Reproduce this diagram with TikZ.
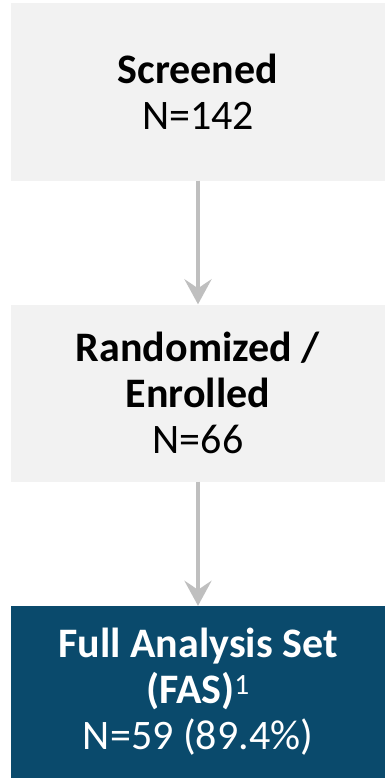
\documentclass[tikz,border=0pt]{standalone}
\usepackage{fontspec}
\setmainfont{Carlito}
\usepackage{tikz}
\usetikzlibrary{arrows.meta}
\definecolor{boxgray}{HTML}{F2F2F2}
\definecolor{fasblue}{HTML}{0A4A6C}
\definecolor{arrowgray}{HTML}{BFBFBF}
\tikzstyle{stage}=[rectangle, fill=boxgray, text=black, align=center, minimum width=374pt, minimum height=177pt, inner sep=0pt, font=\fontsize{42}{46}\selectfont]
\tikzstyle{final}=[stage, fill=fasblue, text=white, minimum height=172pt]
\tikzstyle{flow}=[draw=arrowgray, line width=4pt, -{Stealth[length=25pt, width=27pt, inset=9pt]}]

\begin{document}
\begin{tikzpicture}[x=1pt, y=-1pt]
                    \useasboundingbox (0, 0) rectangle (385, 778);
                    \fill[white] (0, 0) rectangle (385, 778);
                    \node[stage] (screened) at (198, 92)  {\textbf{Screened}\\N=142};
                    \node[stage] (enrolled) at (198, 393) {\textbf{Randomized /}\\\textbf{Enrolled}\\N=66};
                    \node[final] (fas)      at (198, 692) {\textbf{Full Analysis Set}\\\textbf{(FAS)}\textsuperscript{1}\\N=59 (89.4\%)};
                    \draw[flow] (screened) -- (enrolled);
                    \draw[flow] (enrolled) -- (fas);
                \end{tikzpicture}
\end{document}
